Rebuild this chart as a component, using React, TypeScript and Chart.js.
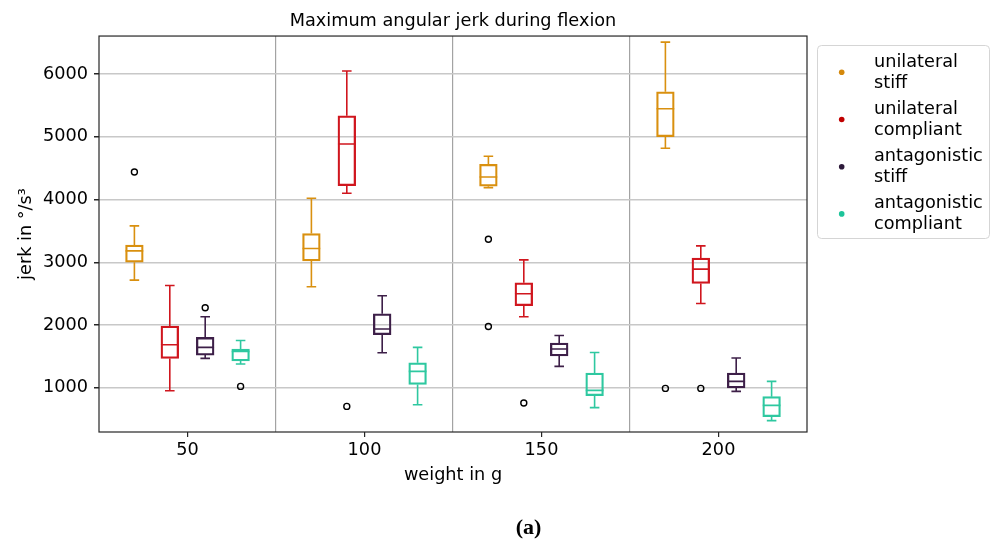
import { useEffect, useRef } from 'react';
import { Chart, registerables } from 'chart.js';

Chart.register(...registerables);

// ---- data -----------------------------------------------------------------
const GROUPS = [50, 100, 150, 200];
const SERIES_NAMES = [
  ['unilateral', 'stiff'],
  ['unilateral', 'compliant'],
  ['antagonistic', 'stiff'],
  ['antagonistic', 'compliant'],
];
const SERIES_OFFSETS = [-15, -5, 5, 15];
const BOX_COLORS = ['#d9900f', '#d0161e', '#3d1f48', '#2ec8a0'];
const LEGEND_COLORS = ['#d4880b', '#c00000', '#2d1a3a', '#1dc49a'];

// [lower whisker, Q1, median, Q3, upper whisker] for each weight
const unilateralStiff = [
  [2715, 3000, 3182, 3273, 3580],
  [2609, 3023, 3219, 3458, 4021],
  [4190, 4212, 4360, 4562, 4690],
  [4817, 5002, 5448, 5718, 6509],
];
const unilateralCompliant = [
  [953, 1468, 1686, 1983, 2630],
  [4101, 4222, 4886, 5336, 6048],
  [2131, 2307, 2498, 2673, 3039],
  [2343, 2662, 2891, 3066, 3262],
];
const antagonisticStiff = [
  [1468, 1521, 1643, 1802, 2131],
  [1558, 1845, 1936, 2179, 2466],
  [1341, 1506, 1617, 1712, 1834],
  [942, 996, 1102, 1235, 1474],
];
const antagonisticCompliant = [
  [1378, 1426, 1579, 1617, 1754],
  [730, 1054, 1261, 1399, 1643],
  [683, 874, 958, 1235, 1563],
  [476, 539, 719, 858, 1102],
];

// outliers per weight
const unilateralStiffOutliers = [[4440], [], [3368, 1977], [990]];
const unilateralCompliantOutliers = [[], [703], [757], [990]];
const antagonisticStiffOutliers = [[2275], [], [], []];
const antagonisticCompliantOutliers = [[1022], [], [], []];

const X_TICKS = [50, 100, 150, 200];
const X_GRID = [75, 125, 175];
const X_ALL_TICKS = [25, 50, 75, 100, 125, 150, 175, 200, 225];
const Y_TICKS = [1000, 2000, 3000, 4000, 5000, 6000];

const TITLE = 'Maximum angular jerk during flexion';
const X_LABEL = 'weight in g';
const Y_LABEL = 'jerk in °/s³';
const CAPTION = '(a)';

// ---- component ------------------------------------------------------------
const FONT = 'DejaVu Sans';
const FS = 17.7;

export default function App() {
  const ref = useRef<HTMLCanvasElement | null>(null);

  useEffect(() => {
    if (!ref.current) return;
    const STATS = [unilateralStiff, unilateralCompliant, antagonisticStiff, antagonisticCompliant];
    const OUTLIERS = [
      unilateralStiffOutliers,
      unilateralCompliantOutliers,
      antagonisticStiffOutliers,
      antagonisticCompliantOutliers,
    ];
    const BOX_HALF = 2.5;
    const CAP_HALF = 1.35;

    const datasets: any[] = [];
    STATS.forEach((stats, s) => {
      const color = BOX_COLORS[s];
      datasets.push({
        type: 'bar',
        data: stats.map((b, i) => ({ x: GROUPS[i] + SERIES_OFFSETS[s], y: [b[1], b[3]] })),
        backgroundColor: 'rgba(0,0,0,0)',
        borderColor: color,
        borderWidth: 1.6,
        borderSkipped: false,
        barThickness: 17.7,
        grouped: false,
      });
      const pts: any[] = [];
      stats.forEach((b, i) => {
        const x = GROUPS[i] + SERIES_OFFSETS[s];
        pts.push({ x: x - BOX_HALF, y: b[2] }, { x: x + BOX_HALF, y: b[2] }, { x, y: null });
        pts.push({ x, y: b[3] }, { x, y: b[4] }, { x, y: null });
        pts.push({ x: x - CAP_HALF, y: b[4] }, { x: x + CAP_HALF, y: b[4] }, { x, y: null });
        pts.push({ x, y: b[1] }, { x, y: b[0] }, { x, y: null });
        pts.push({ x: x - CAP_HALF, y: b[0] }, { x: x + CAP_HALF, y: b[0] }, { x, y: null });
      });
      datasets.push({
        type: 'line',
        data: pts,
        borderColor: color,
        borderWidth: 1.6,
        pointRadius: 0,
        spanGaps: false,
        tension: 0,
        fill: false,
      });
      datasets.push({
        type: 'scatter',
        data: OUTLIERS[s].flatMap((arr, i) =>
          arr.map((y) => ({ x: GROUPS[i] + SERIES_OFFSETS[s], y }))
        ),
        pointRadius: 3,
        pointBorderColor: '#000',
        pointBackgroundColor: 'rgba(0,0,0,0)',
        pointBorderWidth: 1.4,
        showLine: false,
      });
    });

    const extras = {
      id: 'extras',
      afterDraw(chart: any) {
        const { ctx, chartArea: a } = chart;
        ctx.save();
        // frame
        ctx.strokeStyle = '#262626';
        ctx.lineWidth = 1.2;
        ctx.strokeRect(a.left, a.top, a.right - a.left, a.bottom - a.top);
        // legend
        const lx = 817.5, ly = 45.5, lw = 172, lh = 193, r = 4;
        ctx.beginPath();
        ctx.moveTo(lx + r, ly);
        ctx.arcTo(lx + lw, ly, lx + lw, ly + lh, r);
        ctx.arcTo(lx + lw, ly + lh, lx, ly + lh, r);
        ctx.arcTo(lx, ly + lh, lx, ly, r);
        ctx.arcTo(lx, ly, lx + lw, ly, r);
        ctx.closePath();
        ctx.fillStyle = 'rgba(255,255,255,0.8)';
        ctx.fill();
        ctx.strokeStyle = '#d5d5d5';
        ctx.lineWidth = 1;
        ctx.stroke();
        ctx.font = `${FS}px "${FONT}"`;
        ctx.textAlign = 'left';
        ctx.textBaseline = 'alphabetic';
        SERIES_NAMES.forEach((lines, i) => {
          const cy = 72.3 + i * 47.2;
          ctx.beginPath();
          ctx.arc(841.7, cy, 2.8, 0, Math.PI * 2);
          ctx.fillStyle = LEGEND_COLORS[i];
          ctx.fill();
          ctx.fillStyle = '#000';
          lines.forEach((t, k) => ctx.fillText(t, 874, cy - 5.5 + k * 21));
        });
        // caption
        ctx.font = `bold 22px "Liberation Serif"`;
        ctx.textAlign = 'center';
        ctx.textBaseline = 'middle';
        ctx.fillStyle = '#000';
        ctx.fillText(CAPTION, 528.5, 528);
        ctx.restore();
      },
    };

    const font = { family: FONT, size: FS };
    const chart = new Chart(ref.current, {
      type: 'bar',
      data: { datasets },
      plugins: [extras],
      options: {
        responsive: false,
        animation: false,
        events: [],
        layout: { padding: { left: 0, right: 188, top: 0, bottom: 0 } },
        plugins: {
          legend: { display: false },
          tooltip: { enabled: false },
          title: {
            display: true,
            text: TITLE,
            font: { family: FONT, size: FS, weight: 'normal' },
            color: '#000',
            fullSize: false,
            padding: { top: 11, bottom: 3.8 },
          },
        },
        scales: {
          x: {
            type: 'linear',
            min: 25,
            max: 225,
            offset: false,
            afterBuildTicks: (sc: any) => {
              sc.ticks = X_ALL_TICKS.map((v) => ({ value: v }));
            },
            afterFit: (sc: any) => {
              sc.height = 108;
            },
            ticks: {
              font,
              color: '#000',
              padding: 3,
              maxRotation: 0,
              autoSkip: false,
              callback: (v: any) => (X_TICKS.includes(Number(v)) ? String(v) : ''),
            },
            grid: {
              offset: false,
              color: (c: any) => (c.tick && X_GRID.includes(c.tick.value) ? '#a3a3a3' : 'rgba(0,0,0,0)'),
              tickColor: (c: any) => (c.tick && X_TICKS.includes(c.tick.value) ? '#262626' : 'rgba(0,0,0,0)'),
              lineWidth: 1.2,
              tickLength: 5,
            },
            border: { display: false },
            title: {
              display: true,
              text: X_LABEL,
              font,
              color: '#000',
              padding: { top: 0, bottom: 54 },
            },
          },
          y: {
            type: 'linear',
            min: 295,
            max: 6606,
            afterBuildTicks: (sc: any) => {
              sc.ticks = Y_TICKS.map((v) => ({ value: v }));
            },
            afterFit: (sc: any) => {
              sc.width = 99;
            },
            ticks: { font, color: '#000', padding: 6, callback: (v: any) => String(v) },
            grid: { color: '#c8c8c8', lineWidth: 1.5, tickColor: '#262626', tickLength: 5 },
            border: { display: false },
            title: {
              display: true,
              text: Y_LABEL,
              font,
              color: '#000',
              padding: { top: 16, bottom: 0 },
            },
          },
        },
      } as any,
    });
    return () => chart.destroy();
  }, []);

  return (
    <div style={{ position: 'absolute', left: 0, top: 0, width: 995, height: 540, background: '#fff' }}>
      <canvas ref={ref} width={995} height={540} style={{ width: 995, height: 540, display: 'block' }} />
    </div>
  );
}
